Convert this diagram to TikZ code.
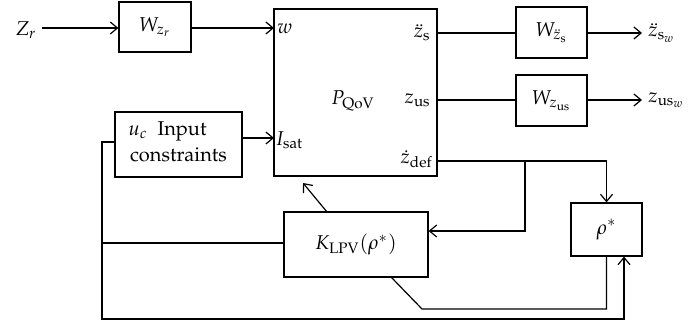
\documentclass[tikz,border=0pt]{standalone}
\usepackage[T1]{fontenc}
\usepackage{mathpazo}
\usetikzlibrary{arrows.meta}
\begin{document}
\begin{tikzpicture}[x=0.5pt,y=-0.5pt,
  blk/.style={draw,line width=0.6pt,inner sep=0pt,align=center},
  lbl/.style={inner sep=0pt},
  conn/.style={line width=0.6pt},
  arr/.style={line width=0.6pt,-{Straight Barb[length=3.6pt,width=6pt]}}]
\useasboundingbox (0,0) rectangle (688,324);
% blocks
\node[blk,minimum width=36pt,minimum height=25pt] (wzr) at (155,27) {$W_{z_r}$};
\node[blk,minimum width=81.5pt,minimum height=83.5pt] (P) at (355.5,92.5) {};
\node[blk,minimum width=35.5pt,minimum height=25.5pt] (wzs) at (551.5,32.5) {$W_{\ddot z_{\mathrm{s}}}$};
\node[blk,minimum width=35.5pt,minimum height=25.5pt] (wzus) at (551.5,100.5) {$W_{z_{\mathrm{us}}}$};
\node[blk,minimum width=63.5pt,minimum height=32.5pt] (ic) at (178.5,144.5) {};
\node[lbl,anchor=west] (icl1) at (128,131) {$u_c$\ \ Input};
\node[lbl] (icl2) at (178.5,155) {constraints};
\node[blk,minimum width=72pt,minimum height=32.5pt] (K) at (356,244.5) {$K_{\mathrm{LPV}}(\rho^{*})$};
\node[blk,minimum width=35.5pt,minimum height=26.5pt] (rho) at (606.5,229.5) {$\rho^{*}$};
% labels
\node[lbl] (zr) at (26,30) {$Z_r$};
\node[lbl,anchor=west] (wl) at (277,29) {$w$};
\node[lbl,anchor=west] (isat) at (275,140) {$I_{\mathrm{sat}}$};
\node[lbl] (pq) at (353,101) {$P_{\mathrm{QoV}}$};
\node[lbl,anchor=east] (zs) at (431,33) {$\ddot z_{\mathrm{s}}$};
\node[lbl,anchor=east] (zus) at (431,100) {$z_{\mathrm{us}}$};
\node[lbl,anchor=east] (zdef) at (433,159) {$\dot z_{\mathrm{def}}$};
\node[lbl,anchor=west] (zsw) at (648,33) {$\ddot z_{\mathrm{s}_w}$};
\node[lbl,anchor=west] (zusw) at (648,100) {$z_{\mathrm{us}_w}$};
% coordinates
\coordinate (pin1) at (274,28);
\coordinate (pin2) at (274,138);
\coordinate (pout1) at (437,33);
\coordinate (pout2) at (437,100);
\coordinate (pout3) at (437,161);
\coordinate (br) at (525,161);
\coordinate (ktop) at (327,212);
\coordinate (ptip) at (303,183);
\coordinate (lft) at (102,142);
\coordinate (bot) at (102,319);
\coordinate (kcorner) at (391,277);
\coordinate (elbow) at (422,309);
% connectors
\draw[arr] (zr.east) ++(5,-2) -- (wzr.west |- 0,28);
\draw[arr] (wzr.east |- 0,28) -- (pin1);
\draw[arr] (ic.east |- pin2) -- (pin2);
\draw[conn] (pout1) -- (wzs.west |- pout1);
\draw[conn] (pout2) -- (wzus.west |- pout2);
\draw[arr] (wzs.east |- pout1) -- (642,33);
\draw[arr] (wzus.east |- pout2) -- (642,100);
\draw[arr] (pout3) -| (rho.north);
\draw[arr] (br) |- (K.east |- 0,231);
\draw[arr] (ktop) -- (ptip);
\draw[conn] (K.west |- 0,243) -- (102,243);
\draw[arr] (ic.west |- lft) -- (lft) -- (bot) -| (rho.south -| 624,0);
\draw[conn] (rho.south) |- (elbow) -- (kcorner);
\end{tikzpicture}
\end{document}
